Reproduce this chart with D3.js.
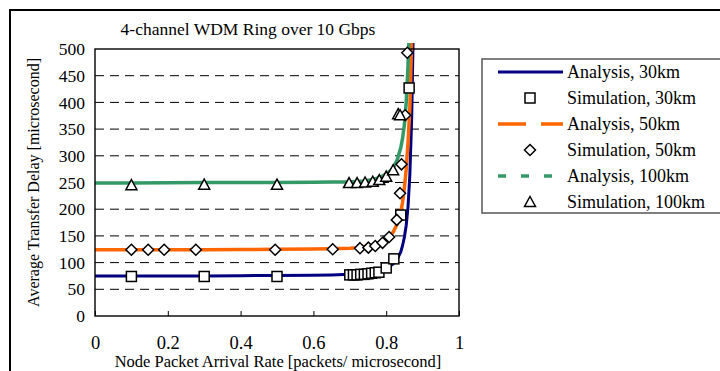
<!DOCTYPE html>
<html>
<head>
<meta charset="utf-8">
<script src="https://cdn.jsdelivr.net/npm/d3@7"></script>
<style>
  body { margin: 0; background: #fff; }
  svg { display: block; font-family: "Liberation Serif", "Times New Roman", serif; }
</style>
</head>
<body>
<svg id="chart" width="720" height="371"></svg>
<script>
const width = 720;
const height = 371;

// analysis curves share one x grid
const rateGrid = [0, 0.1, 0.2, 0.3, 0.4, 0.5, 0.6, 0.65, 0.7, 0.72, 0.74, 0.76, 0.78, 0.8, 0.81, 0.82, 0.83, 0.84, 0.845, 0.85, 0.855, 0.86, 0.865, 0.87, 0.875];
const analysis30 = [75, 75, 75, 75, 75.5, 76, 76.5, 77, 78, 79, 80, 82, 84, 89, 93, 98, 106, 120, 132, 148, 170, 205, 265, 370, 560];
const analysis50 = [124, 124, 124, 124, 124.5, 125, 125.5, 126, 127, 128, 130, 132, 136, 143, 149, 158, 172, 195, 213, 240, 275, 325, 390, 520, 700];
const analysis100 = [249, 249, 249.5, 250, 250, 250, 250.5, 251, 251, 252, 253, 255, 259, 266, 271, 279, 292, 315, 333, 358, 400, 470, 580, 700, 800];

const sim30x = [0.1, 0.3, 0.5, 0.7, 0.71, 0.72, 0.73, 0.74, 0.75, 0.76, 0.77, 0.78, 0.8, 0.821, 0.84, 0.863];
const sim30y = [74, 74, 74, 77, 77, 77, 78, 78, 79, 80, 81, 82, 90, 107, 189, 427];
const sim50x = [0.1, 0.146, 0.19, 0.277, 0.495, 0.653, 0.728, 0.751, 0.77, 0.79, 0.808, 0.829, 0.838, 0.842, 0.852, 0.858];
const sim50y = [124, 124, 124, 124, 124, 125, 127, 128, 131, 137, 148, 180, 230, 284, 376, 493];
const sim100x = [0.1, 0.3, 0.5, 0.698, 0.72, 0.742, 0.763, 0.781, 0.8, 0.819, 0.833, 0.838];
const sim100y = [245, 246, 246, 249, 249, 250, 251.5, 254.5, 261, 273, 378, 376];

const xTicks = [0, 0.2, 0.4, 0.6, 0.8, 1];
const yTicks = [0, 50, 100, 150, 200, 250, 300, 350, 400, 450, 500];

const legendLabels = ["Analysis, 30km", "Simulation, 30km", "Analysis, 50km", "Simulation, 50km", "Analysis, 100km", "Simulation, 100km"];

const blue = "#000080", orange = "#ff6600", green = "#339966";

const svg = d3.select("#chart");
const plot = { left: 95, top: 49, right: 459, bottom: 316 };

const x = d3.scaleLinear().domain([0, 1]).range([plot.left, plot.right]);
const y = d3.scaleLinear().domain([0, 500]).range([plot.bottom, plot.top]);

// outer chart frame (runs off the right and bottom)
svg.append("rect")
    .attr("x", 10).attr("y", 10)
    .attr("width", 760).attr("height", 420)
    .attr("fill", "none").attr("stroke", "#000").attr("stroke-width", 2);

// title
svg.append("text")
    .attr("x", 248).attr("y", 35)
    .attr("text-anchor", "middle")
    .attr("font-size", 17.5)
    .text("4-channel WDM Ring over 10 Gbps");

// gridlines
svg.append("g")
    .selectAll("line")
    .data(yTicks.filter(d => d > 0 && d < 500))
    .enter()
    .append("line")
    .attr("x1", plot.left).attr("x2", plot.right)
    .attr("y1", d => y(d)).attr("y2", d => y(d))
    .attr("stroke", "#000").attr("stroke-width", 1)
    .attr("stroke-dasharray", "9,6");

// x axis with inside ticks
const xAxis = svg.append("g")
    .attr("transform", `translate(0,${plot.bottom})`)
    .call(d3.axisBottom(x).tickValues(xTicks).tickSize(-5).tickPadding(20).tickFormat(d => d));
xAxis.select(".domain").remove();
xAxis.selectAll("line").attr("stroke", "#000");
xAxis.selectAll("text")
    .attr("font-family", "Liberation Serif, serif")
    .attr("font-size", 18.5)
    .attr("fill", "#000");

// y axis labels
const yAxis = svg.append("g")
    .attr("transform", `translate(${plot.left},0)`)
    .call(d3.axisLeft(y).tickValues(yTicks).tickSize(0).tickPadding(10));
yAxis.select(".domain").remove();
yAxis.selectAll("text")
    .attr("font-family", "Liberation Serif, serif")
    .attr("font-size", 17.5)
    .attr("fill", "#000");

// axis titles
svg.append("text")
    .attr("x", 278).attr("y", 367)
    .attr("text-anchor", "middle")
    .attr("font-size", 16.5)
    .text("Node Packet Arrival Rate [packets/ microsecond]");

svg.append("text")
    .attr("transform", `translate(39,${(plot.top + plot.bottom) / 2}) rotate(-90)`)
    .attr("text-anchor", "middle")
    .attr("font-size", 16)
    .text("Average Transfer Delay [microsecond]");

// clip the curves near the plot area (they poke a bit over the top)
svg.append("clipPath").attr("id", "plotClip")
    .append("rect")
    .attr("x", plot.left).attr("y", plot.top - 6)
    .attr("width", plot.right - plot.left).attr("height", plot.bottom - plot.top + 6);

const line = d3.line()
    .x(d => x(d[0]))
    .y(d => y(d[1]));

const curves = [
    { ys: analysis30, color: blue, w: 3 },
    { ys: analysis50, color: orange, w: 3.5 },
    { ys: analysis100, color: green, w: 3.5 }
];

const curveG = svg.append("g").attr("clip-path", "url(#plotClip)");
curves.forEach(c => {
    curveG.append("path")
        .datum(rateGrid.map((r, i) => [r, c.ys[i]]))
        .attr("d", line)
        .attr("fill", "none")
        .attr("stroke", c.color)
        .attr("stroke-width", c.w);
});

// plot box
svg.append("rect")
    .attr("x", plot.left).attr("y", plot.top)
    .attr("width", plot.right - plot.left).attr("height", plot.bottom - plot.top)
    .attr("fill", "none").attr("stroke", "#000").attr("stroke-width", 1.4);

// marker shapes
function marker(g, kind) {
    if (kind === "square") {
        return g.append("rect").attr("x", -5).attr("y", -5).attr("width", 10).attr("height", 10);
    } else if (kind === "diamond") {
        return g.append("path").attr("d", "M0,-5.5L5.5,0L0,5.5L-5.5,0Z");
    }
    return g.append("path").attr("d", "M0,-5.5L5.5,4.5L-5.5,4.5Z");
}

const sims = [
    { xs: sim30x, ys: sim30y, kind: "square" },
    { xs: sim50x, ys: sim50y, kind: "diamond" },
    { xs: sim100x, ys: sim100y, kind: "triangle" }
];

sims.forEach(s => {
    s.xs.forEach((v, i) => {
        const g = svg.append("g").attr("transform", `translate(${x(v)},${y(s.ys[i])})`);
        marker(g, s.kind)
            .attr("fill", "#fff")
            .attr("stroke", "#000")
            .attr("stroke-width", 1.5);
    });
});

// legend
const legend = svg.append("g");
legend.append("rect")
    .attr("x", 482).attr("y", 59)
    .attr("width", 300).attr("height", 154)
    .attr("fill", "#fff").attr("stroke", "#555").attr("stroke-width", 1.5);

const legendItems = [
    { type: "line", color: blue, dash: null, w: 3 },
    { type: "square" },
    { type: "line", color: orange, dash: "28,15", w: 3.5 },
    { type: "diamond" },
    { type: "line", color: green, dash: "8,15", w: 3.5 },
    { type: "triangle" }
];

legendItems.forEach((item, i) => {
    const cy = 72 + i * 26;
    if (item.type === "line") {
        legend.append("line")
            .attr("x1", 498).attr("x2", 563)
            .attr("y1", cy).attr("y2", cy)
            .attr("stroke", item.color)
            .attr("stroke-width", item.w)
            .attr("stroke-dasharray", item.dash);
    } else {
        const g = legend.append("g").attr("transform", `translate(530,${cy})`);
        marker(g, item.type)
            .attr("fill", "#fff")
            .attr("stroke", "#000")
            .attr("stroke-width", 1.5);
    }
    legend.append("text")
        .attr("x", 567).attr("y", cy + 6)
        .attr("font-size", 18)
        .text(legendLabels[i]);
});
</script>
</body>
</html>
